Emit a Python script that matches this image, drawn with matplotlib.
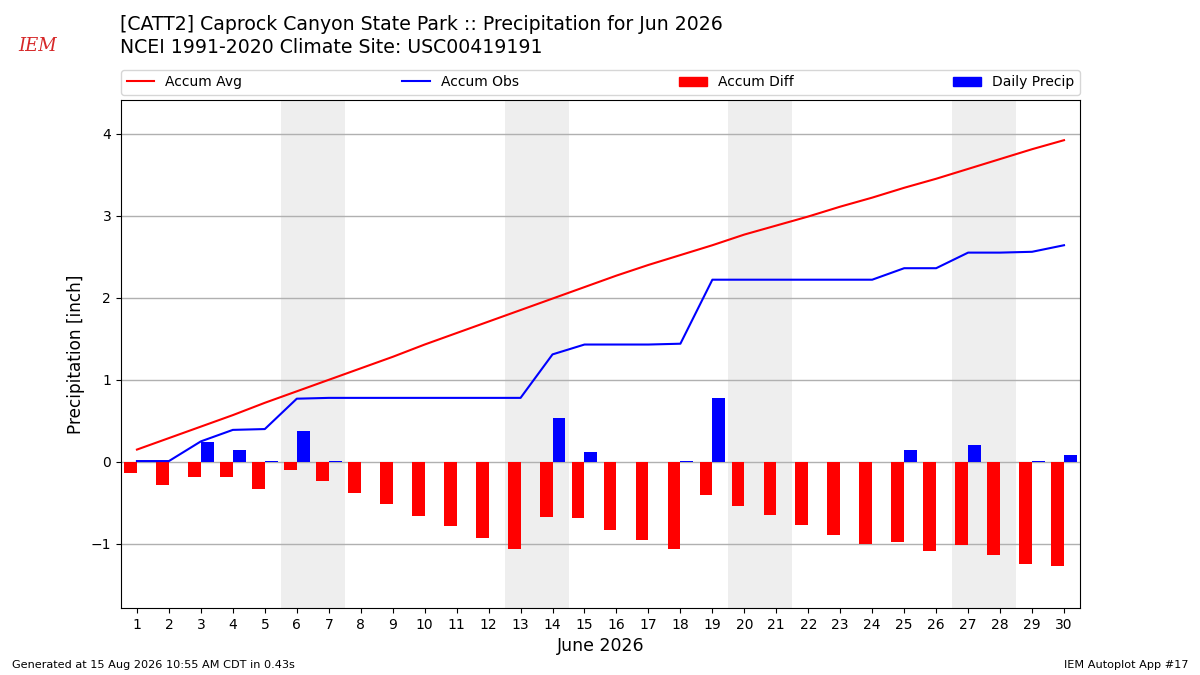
import datetime
import matplotlib
matplotlib.use("Agg")
import matplotlib.pyplot as plt
from matplotlib.patches import Patch
from matplotlib.lines import Line2D

days = list(range(1, 31))
accum_avg = [0.15, 0.29, 0.43, 0.57, 0.72, 0.86, 1.00, 1.14, 1.28, 1.43,
             1.57, 1.71, 1.85, 1.99, 2.13, 2.27, 2.40, 2.52, 2.64, 2.77,
             2.88, 2.99, 3.11, 3.22, 3.34, 3.45, 3.57, 3.69, 3.81, 3.92]
accum_obs = [0.01, 0.01, 0.25, 0.39, 0.40, 0.77, 0.78, 0.78, 0.78, 0.78,
             0.78, 0.78, 0.78, 1.31, 1.43, 1.43, 1.43, 1.44, 2.22, 2.22,
             2.22, 2.22, 2.22, 2.22, 2.36, 2.36, 2.55, 2.55, 2.56, 2.64]
accum_diff = [-0.13, -0.28, -0.18, -0.18, -0.33, -0.10, -0.23, -0.38, -0.51, -0.66,
              -0.78, -0.93, -1.06, -0.67, -0.68, -0.83, -0.95, -1.06, -0.40, -0.54,
              -0.65, -0.77, -0.89, -1.00, -0.98, -1.09, -1.01, -1.13, -1.24, -1.27]
daily_precip = [0.01, 0.00, 0.24, 0.15, 0.01, 0.38, 0.01, 0.00, 0.00, 0.00,
                0.00, 0.00, 0.00, 0.54, 0.12, 0.00, 0.00, 0.01, 0.78, 0.00,
                0.00, 0.00, 0.00, 0.00, 0.15, 0.00, 0.20, 0.00, 0.01, 0.09]
year, month = 2026, 6

fig = plt.figure(figsize=(12, 6.75), dpi=100)
ax = fig.add_axes([0.1008, 0.0993, 0.7992, 0.7526])

# weekend shading
for d in days:
    if datetime.date(year, month, d).weekday() == 5:
        ax.axvspan(d - 0.5, d + 1.5, color="#eeeeee", zorder=0, lw=0)

ax.bar(days, accum_diff, width=-0.4, align="edge", color="red", zorder=2)
ax.bar(days, daily_precip, width=0.4, align="edge", color="blue", zorder=2)
ax.plot(days, accum_avg, color="red", lw=1.5, zorder=3)
ax.plot(days, accum_obs, color="blue", lw=1.5, zorder=3)

ax.set_xlim(0.5, 30.5)
ax.set_ylim(-1.78, 4.41)
ax.set_xticks(days)
ax.set_yticks([-1, 0, 1, 2, 3, 4])
ax.grid(axis="y", color="#b0b0b0", lw=1, zorder=1)
ax.set_axisbelow(True)
ax.tick_params(labelsize=10)
ax.set_xlabel("June 2026", fontsize=12.5)
ax.set_ylabel("Precipitation [inch]", fontsize=12.2)

handles = [Line2D([], [], color="red", lw=1.5),
           Line2D([], [], color="blue", lw=1.5),
           Patch(color="red"), Patch(color="blue")]
labels = ["Accum Avg", "Accum Obs", "Accum Diff", "Daily Precip"]
ax.legend(handles, labels, ncol=4, mode="expand", loc="lower left",
          bbox_to_anchor=(0, 1.01, 1, 0.05), borderaxespad=0, fontsize=10)

fig.text(0.1, 0.9644, "[CATT2] Caprock Canyon State Park :: Precipitation for Jun 2026",
         fontsize=13.6, va="center", ha="left")
fig.text(0.1, 0.930, "NCEI 1991-2020 Climate Site: USC00419191",
         fontsize=13.6, va="center", ha="left")
fig.text(0.031, 0.932, "IEM", fontsize=13, color="#d62728", style="italic",
         family="DejaVu Serif", va="center", ha="center")
fig.text(0.01, 0.011, "Generated at 15 Aug 2026 10:55 AM CDT in 0.43s", fontsize=8.1)
fig.text(0.99, 0.011, "IEM Autoplot App #17", fontsize=8.1, ha="right")

fig.savefig("out.png", dpi=100)
